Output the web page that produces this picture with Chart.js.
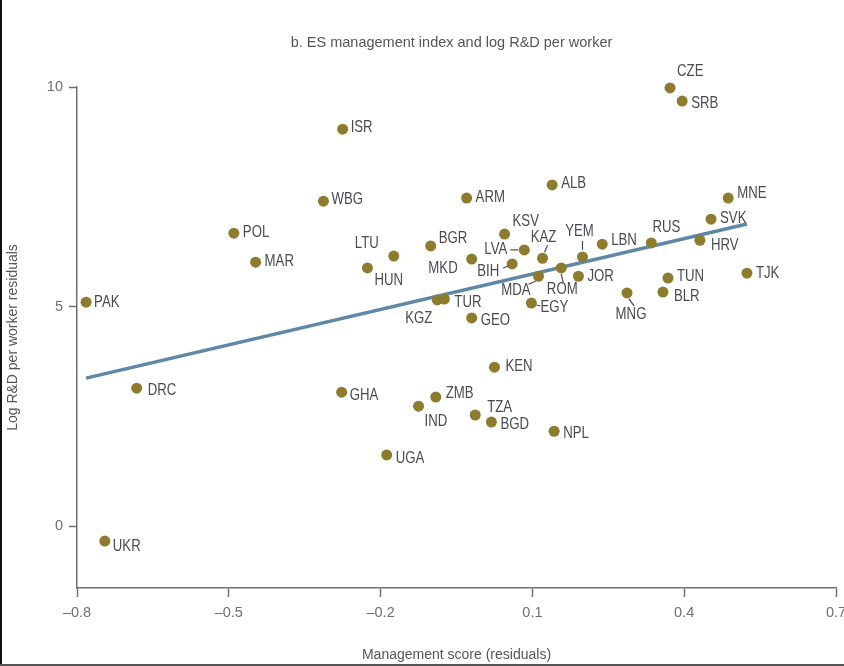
<!DOCTYPE html>
<html>
<head>
<meta charset="utf-8">
<script src="https://cdn.jsdelivr.net/npm/chart.js@4.4.1/dist/chart.umd.min.js"></script>
<style>
    html, body { margin: 0; padding: 0; background: #fff; }
    #wrap { width: 844px; height: 666px; }
</style>
</head>
<body>
<div id="wrap"><canvas id="rdChart" width="844" height="666"></canvas></div>
<script>
// country codes and values
const codes = ['CZE', 'SRB', 'ISR', 'WBG', 'POL', 'MAR', 'PAK', 'LTU', 'HUN', 'BGR', 'MKD',
    'ARM', 'KGZ', 'TUR', 'GEO', 'KSV', 'LVA', 'BIH', 'KAZ', 'MDA', 'ROM', 'YEM', 'JOR', 'EGY',
    'ALB', 'LBN', 'RUS', 'MNG', 'TUN', 'BLR', 'HRV', 'SVK', 'MNE', 'TJK', 'KEN', 'DRC', 'GHA',
    'ZMB', 'IND', 'TZA', 'BGD', 'NPL', 'UGA', 'UKR'];
const mgmtScore = [0.372, 0.396, -0.275, -0.313, -0.490, -0.447, -0.782, -0.174, -0.226, -0.101, -0.020,
    -0.030, -0.088, -0.074, -0.020, 0.045, 0.084, 0.060, 0.120, 0.112, 0.157, 0.199, 0.191, 0.098,
    0.139, 0.238, 0.335, 0.287, 0.368, 0.358, 0.431, 0.453, 0.487, 0.524, 0.025, -0.682, -0.277,
    -0.091, -0.125, -0.013, 0.019, 0.143, -0.188, -0.745];
const logRD = [9.98, 9.68, 9.04, 7.40, 6.67, 6.01, 5.10, 6.15, 5.88, 6.38, 6.08,
    7.47, 5.15, 5.17, 4.74, 6.65, 6.29, 5.97, 6.10, 5.69, 5.88, 6.13, 5.69, 5.08,
    7.77, 6.42, 6.45, 5.31, 5.65, 5.33, 6.51, 6.99, 7.47, 5.76, 3.62, 3.14, 3.05,
    2.94, 2.73, 2.53, 2.37, 2.16, 1.62, -0.34];

// fitted line end points
const fitX = [-0.782, 0.524];
const fitY = [3.37, 6.88];

const xTicks = [-0.8, -0.5, -0.2, 0.1, 0.4, 0.7];
const yTicks = [0, 5, 10];

// label placement (px offset from the dot, text alignment)
const labelPlace = {
    CZE: [7, -16, 'left'], SRB: [9, 2, 'left'], ISR: [8, -2, 'left'], WBG: [8, -2, 'left'],
    POL: [9, -1, 'left'], MAR: [9, -1, 'left'], PAK: [8, 0, 'left'], LTU: [-15, -13, 'right'],
    HUN: [7, 13, 'left'], BGR: [8, -7, 'left'], MKD: [-14, 9, 'right'], ARM: [9, -1, 'left'],
    KGZ: [-5, 18, 'right'], TUR: [10, 3, 'left'], GEO: [9, 2, 'left'], KSV: [8, -13, 'left'],
    LVA: [-17, 0, 'right'], BIH: [-13, 8, 'right'], KAZ: [1, -21, 'center'], MDA: [-8, 14, 'right'],
    ROM: [1, 22, 'center'], YEM: [-3, -25, 'center'], JOR: [9, 0, 'left'], EGY: [9, 4, 'left'],
    ALB: [9, -1, 'left'], LBN: [9, -4, 'left'], RUS: [15, -15, 'center'], MNG: [4, 22, 'center'],
    TUN: [9, -2, 'left'], BLR: [11, 4, 'left'], HRV: [11, 5, 'left'], SVK: [9, -1, 'left'],
    MNE: [9, -5, 'left'], TJK: [9, 0, 'left'], KEN: [11, -1, 'left'], DRC: [11, 2, 'left'],
    GHA: [8, 3, 'left'], ZMB: [10, -4, 'left'], IND: [6, 15, 'left'], TZA: [12, -8, 'left'],
    BGD: [9, 2, 'left'], NPL: [9, 2, 'left'], UGA: [9, 3, 'left'], UKR: [8, 5, 'left'],
};
const leaders = {
    LVA: [-14, 0, -6, 0], BIH: [-9, 4, -4, 2], KAZ: [2, -6, 5, -13], YEM: [0, -7, 0, -16],
    MDA: [-3, 5, -10, 8], ROM: [0, 6, 2, 15], MNG: [2, 6, 7, 13], EGY: [5, 2, 9, 3],
};

const points = codes.map((c, i) => ({ x: mgmtScore[i], y: logRD[i] }));
const fitLine = fitX.map((x, i) => ({ x: x, y: fitY[i] }));

const dash = (v) => (v < 0 ? '\u2013' + Math.abs(v) : String(v));

const decorPlugin = {
    id: 'decor',
    afterDatasetsDraw(chart) {
        const { ctx } = chart;
        const meta = chart.getDatasetMeta(0);
        ctx.save();
        ctx.font = '16.5px "Liberation Sans", Arial, sans-serif';
        ctx.fillStyle = '#484b50';
        ctx.textBaseline = 'middle';
        ctx.strokeStyle = '#484b50';
        ctx.lineWidth = 1.2;
        meta.data.forEach((el, i) => {
            const code = codes[i];
            const p = labelPlace[code] || [8, 0, 'left'];
            // condensed look: squeeze the text horizontally
            ctx.save();
            ctx.translate(el.x + p[0], el.y + p[1]);
            ctx.scale(0.8, 1);
            ctx.textAlign = p[2];
            ctx.fillText(code, 0, 0);
            ctx.restore();
            const l = leaders[code];
            if (l) {
                ctx.beginPath();
                ctx.moveTo(el.x + l[0], el.y + l[1]);
                ctx.lineTo(el.x + l[2], el.y + l[3]);
                ctx.stroke();
            }
        });
        ctx.restore();
    },
    afterDraw(chart) {
        const { ctx, chartArea } = chart;
        ctx.save();
        ctx.font = '14.5px "Liberation Sans", Arial, sans-serif';
        ctx.fillStyle = '#555';
        ctx.textAlign = 'center';
        ctx.textBaseline = 'middle';
        ctx.fillText('b. ES management index and log R&D per worker',
            (chartArea.left + chartArea.right) / 2 - 5, 43);
        // page frame
        ctx.fillStyle = '#111';
        ctx.fillRect(0, 0, 2, chart.height);
        ctx.fillStyle = '#555';
        ctx.fillRect(0, chart.height - 2, chart.width, 2);
        ctx.restore();
    },
};

const config = {
    type: 'scatter',
    data: {
        datasets: [
            {
                label: 'Countries',
                data: points,
                backgroundColor: '#8d7c2e',
                borderWidth: 0,
                pointRadius: 5.5,
                pointHoverRadius: 5.5,
                clip: false,
                order: 0,
            },
            {
                type: 'line',
                label: 'Fit',
                data: fitLine,
                borderColor: '#5e87a8',
                borderWidth: 3.5,
                pointRadius: 0,
                fill: false,
                order: 1,
            },
        ],
    },
    options: {
        responsive: false,
        animation: false,
        layout: {
            padding: { top: 87, right: 8, bottom: 0, left: 0 },
        },
        plugins: {
            legend: { display: false },
            tooltip: { enabled: false },
        },
        scales: {
            x: {
                type: 'linear',
                min: -0.8,
                max: 0.7,
                afterBuildTicks: (s) => { s.ticks = xTicks.map((v) => ({ value: v })); },
                afterFit: (s) => { s.height = 78; s.paddingLeft = 0; s.paddingRight = 0; },
                ticks: {
                    callback: (v) => dash(v),
                    font: { family: '"Liberation Sans", Arial, sans-serif', size: 14.5 },
                    color: '#707070',
                    padding: 7,
                    maxRotation: 0,
                },
                grid: {
                    drawOnChartArea: false,
                    drawTicks: true,
                    tickLength: 9,
                    tickColor: '#707070',
                    tickWidth: 1.5,
                },
                border: { color: '#707070', width: 1.5 },
                title: {
                    display: true,
                    text: 'Management score (residuals)',
                    font: { family: '"Liberation Sans", Arial, sans-serif', size: 14 },
                    color: '#555',
                    padding: { top: 0, bottom: 2 },
                },
            },
            y: {
                type: 'linear',
                min: -1.41,
                max: 10,
                afterBuildTicks: (s) => { s.ticks = yTicks.map((v) => ({ value: v })); },
                afterFit: (s) => { s.width = 77; s.paddingTop = 0; s.paddingBottom = 0; },
                ticks: {
                    font: { family: '"Liberation Sans", Arial, sans-serif', size: 14.5 },
                    color: '#707070',
                    padding: 6,
                },
                grid: {
                    drawOnChartArea: false,
                    drawTicks: true,
                    tickLength: 8,
                    tickColor: '#707070',
                    tickWidth: 1.5,
                },
                border: { color: '#707070', width: 1.5 },
                title: {
                    display: true,
                    text: 'Log R&D per worker residuals',
                    font: { family: '"Liberation Sans", Arial, sans-serif', size: 14 },
                    color: '#555',
                    padding: { top: 5, bottom: 0 },
                },
            },
        },
    },
    plugins: [decorPlugin],
};

const rdChart = new Chart(document.getElementById('rdChart'), config);
</script>
</body>
</html>
